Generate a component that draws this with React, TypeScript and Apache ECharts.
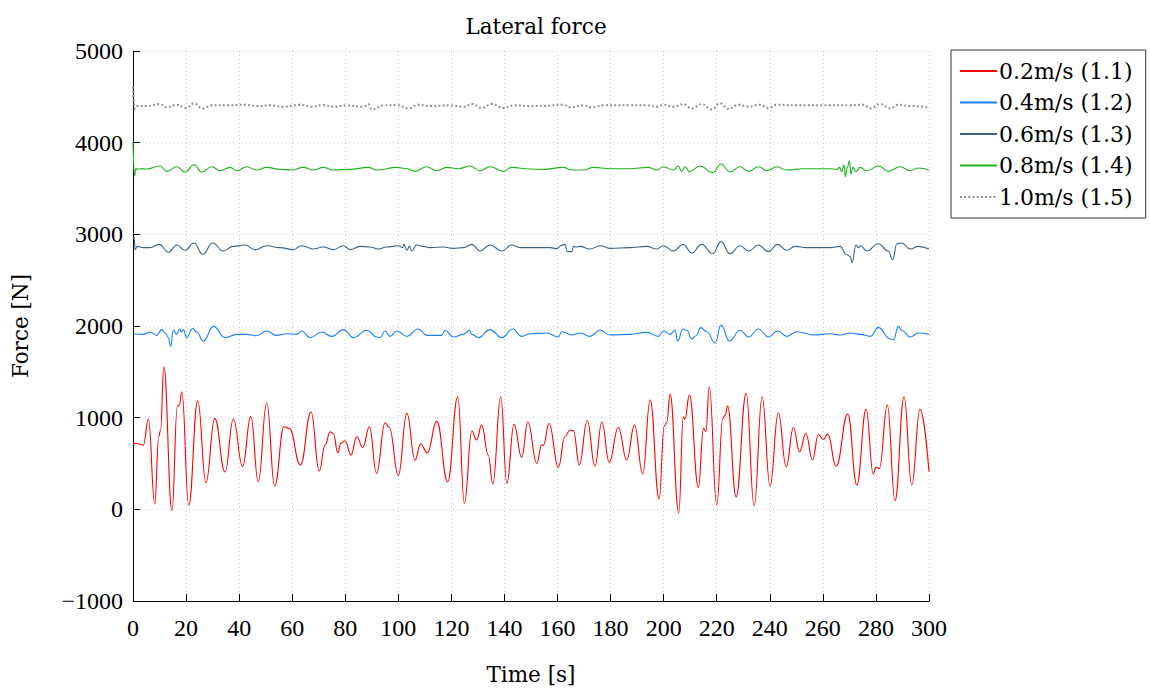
import React, { useEffect, useRef } from "react";
import * as echarts from "echarts";

const NUM_FONT = "'Liberation Serif', serif";
const TXT_FONT = "'DejaVu Serif', 'Liberation Serif', serif";

const seriesNames = ["0.2m/s (1.1)", "0.4m/s (1.2)", "0.6m/s (1.3)", "0.8m/s (1.4)", "1.0m/s (1.5)"];
const seriesColors = ["#ff0000", "#1a7fff", "#3a6485", "#1db31d", "#888888"];

const redT = [0, 2, 3.9, 5.8, 8.2, 9.7, 10.4, 11.6, 14.7, 16.7, 17.5, 18.4, 21.0, 24.4, 27.5, 30.8, 34.7, 37.8, 41.3, 44.4, 47.2, 50.4, 53.4, 56.9, 58.9, 63.1, 67.1, 70.2, 72.4, 74.3, 75.5, 77.2, 78.3, 79.9, 82.2, 84.3, 86.6, 89.1, 91.8, 95.0, 96.6, 100.0, 103.2, 106.3, 108.4, 110.9, 114.5, 118.6, 122.4, 124.9, 127.7, 129.5, 131.4, 133.9, 135.6, 138.6, 140.9, 143.6, 146.5, 148.8, 152.2, 154.0, 154.7, 156.8, 160.3, 162.8, 164.7, 166.0, 168.2, 171.2, 174.1, 176.7, 179.5, 182.9, 186.1, 189.0, 192.1, 194.9, 198.3, 200.2, 201.2, 202.4, 205.7, 207.4, 208.0, 209.7, 213.1, 215.0, 215.9, 217.2, 220.0, 222.3, 223.2, 224.1, 227.3, 231.1, 234.1, 237.1, 240.1, 243.2, 246.2, 248.9, 251.2, 253.6, 256.1, 258.3, 260.2, 261.8, 265.0, 269.4, 272.8, 276.3, 279.0, 280.0, 281.3, 284.3, 287.2, 290.6, 293.5, 296.6, 300];
const redV = [720, 715, 701, 985, 58, 792, 865, 1555, -15, 1119, 1140, 1283, 44, 1185, 290, 992, 407, 985, 469, 1014, 301, 1163, 254, 901, 883, 483, 1064, 418, 701, 846, 828, 617, 720, 749, 592, 792, 676, 901, 392, 944, 893, 371, 1047, 538, 712, 617, 960, 301, 1228, 65, 854, 756, 919, 592, 276, 1228, 283, 927, 567, 952, 501, 701, 701, 937, 458, 792, 865, 858, 483, 966, 472, 952, 512, 893, 538, 919, 385, 1192, 112, 908, 952, 1257, -37, 1010, 981, 1246, 240, 883, 846, 1337, 47, 992, 1028, 1126, 137, 1265, 36, 1228, 254, 1054, 465, 893, 628, 828, 538, 817, 763, 821, 472, 1039, 265, 1090, 385, 458, 447, 1137, 94, 1228, 265, 1090, 410];

const blueT = [0, 3.9, 6.4, 8.9, 10.8, 12.4, 13.3, 14.2, 15.2, 16.5, 17.5, 18.3, 19.0, 20.2, 22.5, 24.0, 26.5, 30.3, 34.7, 39.1, 42.8, 46.6, 50.4, 54.1, 57.9, 61.7, 63.6, 66.7, 71.1, 74.9, 79.3, 83.1, 88.1, 91.9, 93.1, 95.0, 96.9, 99.4, 103.2, 107.5, 110.7, 116.3, 117.6, 120.7, 124.5, 126.8, 127.7, 130.2, 134.6, 139.0, 143.1, 146.5, 149.6, 155.9, 160.3, 161.6, 165.4, 168.5, 172.2, 176.0, 179.8, 187.3, 193.6, 198.0, 199.9, 202.4, 204.3, 205.3, 207.2, 208.7, 210.6, 212.2, 214.0, 216.2, 219.4, 221.6, 224.8, 228.8, 232.0, 235.7, 239.5, 242.9, 246.4, 250.2, 256.5, 262.8, 266.5, 270.3, 274.1, 277.9, 280.9, 285.4, 286.6, 288.5, 289.7, 292.9, 296.0, 300];
const blueV = [1916, 1909, 1934, 1898, 1960, 1916, 1873, 1778, 1953, 1909, 1967, 1934, 1960, 1873, 1971, 1934, 1836, 1996, 1873, 1909, 1909, 1894, 1945, 1898, 1916, 1909, 1945, 1873, 1934, 1887, 1960, 1873, 1953, 1880, 1873, 1945, 1887, 1945, 1887, 1967, 1898, 1898, 1953, 1880, 1909, 1953, 1909, 1873, 1960, 1873, 1967, 1887, 1916, 1924, 1880, 1938, 1902, 1924, 1887, 1953, 1902, 1909, 1931, 1887, 1945, 1909, 1953, 1836, 1967, 1953, 1858, 1894, 1982, 1938, 1814, 2011, 1836, 1953, 1880, 1967, 1880, 1945, 1887, 1938, 1902, 1916, 1902, 1924, 1909, 1887, 1982, 1858, 1851, 1996, 1953, 1880, 1924, 1909];

const darkT = [0, 0.4, 0.8, 1.6, 3.9, 6.4, 9.9, 13.3, 16.5, 19.6, 23.0, 26.3, 30.0, 34.0, 37.8, 42.2, 46.0, 50.4, 55.4, 60.4, 63.6, 67.9, 71.7, 75.5, 79.3, 81.8, 85.6, 89.3, 92.5, 95.6, 100.0, 101.6, 102.1, 103.2, 104.2, 105.0, 106.9, 109.4, 112.0, 117.0, 120.7, 124.5, 127.7, 130.8, 134.6, 139.0, 142.7, 145.9, 149.6, 157.2, 159.7, 161.6, 162.8, 163.7, 165.4, 166.0, 167.2, 168.5, 172.2, 176.0, 179.8, 187.3, 193.6, 197.4, 199.9, 203.7, 207.4, 210.6, 214.3, 218.5, 221.6, 225.0, 228.8, 232.0, 235.7, 239.5, 242.9, 246.4, 249.5, 253.9, 262.8, 266.5, 268.8, 270.3, 271.0, 272.5, 273.4, 274.3, 276.5, 280.9, 284.7, 286.3, 287.9, 289.7, 292.9, 296.0, 300];
const darkV = [2950, 2971, 2833, 2869, 2855, 2855, 2891, 2804, 2884, 2826, 2905, 2782, 2905, 2818, 2869, 2884, 2833, 2876, 2855, 2833, 2876, 2840, 2862, 2833, 2876, 2833, 2869, 2862, 2840, 2862, 2876, 2855, 2891, 2826, 2869, 2818, 2884, 2869, 2855, 2862, 2847, 2855, 2891, 2818, 2884, 2818, 2884, 2855, 2855, 2855, 2844, 2880, 2891, 2811, 2811, 2869, 2862, 2869, 2840, 2876, 2847, 2855, 2869, 2840, 2876, 2818, 2891, 2796, 2891, 2789, 2920, 2789, 2876, 2818, 2884, 2811, 2891, 2826, 2869, 2855, 2855, 2869, 2782, 2760, 2694, 2884, 2855, 2876, 2818, 2898, 2818, 2724, 2898, 2905, 2840, 2869, 2840];

const greenT = [0, 0.6, 1.1, 1.6, 2.6, 5.2, 10.2, 12.7, 16.5, 19.6, 23.0, 25.9, 29.7, 32.8, 36.6, 39.1, 42.8, 46.6, 50.4, 55.4, 59.8, 64.2, 68.0, 71.7, 75.5, 81.8, 88.7, 91.9, 99.4, 103.2, 106.3, 110.7, 114.5, 118.2, 122.6, 127.0, 130.8, 134.6, 139.6, 142.7, 149.6, 154.7, 162.2, 165.4, 169.7, 173.5, 179.8, 187.3, 194.2, 197.4, 199.9, 203.7, 205.5, 206.8, 208.1, 209.7, 213.7, 218.5, 221.6, 225.0, 228.8, 232.0, 235.7, 238.9, 242.6, 246.4, 252.7, 262.8, 265.3, 266.2, 267.1, 268.0, 268.5, 269.2, 270.0, 270.6, 271.3, 272.5, 274.0, 276.5, 281.0, 284.7, 289.1, 292.9, 296.0, 300];
const greenV = [4010, 3636, 3720, 3709, 3716, 3712, 3745, 3687, 3737, 3680, 3759, 3680, 3737, 3694, 3730, 3694, 3737, 3702, 3730, 3709, 3702, 3730, 3702, 3730, 3702, 3709, 3730, 3702, 3730, 3716, 3687, 3737, 3694, 3730, 3716, 3745, 3694, 3737, 3687, 3730, 3712, 3709, 3730, 3702, 3702, 3730, 3716, 3716, 3730, 3702, 3737, 3702, 3745, 3687, 3737, 3684, 3745, 3673, 3767, 3680, 3737, 3687, 3737, 3694, 3737, 3702, 3716, 3716, 3709, 3730, 3684, 3756, 3629, 3730, 3803, 3658, 3730, 3684, 3730, 3694, 3745, 3687, 3737, 3694, 3723, 3702];

const grayT = [0, 0.7, 1.4, 5.2, 10.2, 12.7, 16.5, 20.0, 23.0, 26.3, 29.7, 35.3, 42.2, 46.6, 51.6, 56.7, 63.0, 67.3, 71.7, 75.5, 80.5, 86.8, 88.7, 90.0, 94.4, 99.4, 103.8, 107.5, 112.0, 119.5, 124.5, 127.7, 131.4, 135.2, 139.6, 143.4, 149.6, 154.7, 162.2, 164.7, 169.7, 172.9, 177.3, 187.3, 193.6, 197.4, 199.9, 203.7, 207.4, 210.6, 214.3, 218.1, 221.3, 224.4, 228.2, 232.0, 236.3, 239.5, 242.6, 250.2, 262.8, 270.3, 275.3, 277.9, 281.6, 285.4, 288.5, 292.9, 300];
const grayV = [4610, 4370, 4400, 4400, 4421, 4385, 4414, 4378, 4429, 4374, 4407, 4407, 4414, 4400, 4407, 4392, 4414, 4392, 4410, 4392, 4407, 4392, 4421, 4363, 4407, 4410, 4374, 4414, 4400, 4407, 4392, 4421, 4378, 4421, 4378, 4407, 4400, 4400, 4414, 4385, 4407, 4385, 4407, 4407, 4407, 4392, 4414, 4392, 4421, 4374, 4421, 4363, 4429, 4367, 4414, 4392, 4414, 4378, 4414, 4407, 4407, 4407, 4414, 4374, 4421, 4374, 4414, 4400, 4385];

const xTicks = [0, 20, 40, 60, 80, 100, 120, 140, 160, 180, 200, 220, 240, 260, 280, 300];
const yTicks = [-1000, 0, 1000, 2000, 3000, 4000, 5000];

function pairs(t: number[], v: number[]) {
  return t.map((x, i) => [x, v[i]]);
}

export default function App() {
  const ref = useRef<HTMLDivElement>(null);
  useEffect(() => {
    if (!ref.current) return;
    const chart = echarts.init(ref.current, undefined, { renderer: "svg" });
    const allData = [
      pairs(redT, redV),
      pairs(blueT, blueV),
      pairs(darkT, darkV),
      pairs(greenT, greenV),
      pairs(grayT, grayV),
    ];
    const series = allData.map((d, i) => ({
      name: seriesNames[i],
      type: "line",
      data: d,
      symbol: "none",
      smooth: 0.45,
      smoothMonotone: "x",
      lineStyle: {
        color: seriesColors[i],
        width: i === 4 ? 2 : 1.1,
        type: i === 4 ? [1.8, 2.4] : "solid",
      },
      itemStyle: { color: seriesColors[i] },
      z: 5 - i,
    }));
    chart.setOption({
      animation: false,
      title: {
        text: "Lateral force",
        left: 531,
        top: 10,
        textAlign: "center",
        textStyle: { fontFamily: TXT_FONT, fontWeight: "normal", fontSize: 21.5, color: "#000" },
      },
      legend: {
        orient: "vertical",
        left: 951,
        top: 50,
        padding: [10, 13, 10, 8],
        itemWidth: 37,
        itemHeight: 14,
        itemGap: 9.5,
        borderColor: "#333",
        borderWidth: 1,
        itemStyle: { opacity: 0 },
        textStyle: { fontFamily: TXT_FONT, fontSize: 22, color: "#000", padding: [0, 0, 0, -3] },
        data: seriesNames,
      },
      grid: { left: 133, top: 51, width: 796, height: 550, containLabel: false },
      xAxis: {
        type: "value",
        min: xTicks[0],
        max: xTicks[xTicks.length - 1],
        interval: 20,
        name: "Time [s]",
        nameLocation: "middle",
        nameGap: 62,
        nameTextStyle: { fontFamily: TXT_FONT, fontSize: 21.5, color: "#000", verticalAlign: "top" },
        axisLine: { show: true, onZero: false, lineStyle: { color: "#000", width: 1 } },
        axisTick: { show: true, inside: true, length: 7, lineStyle: { color: "#000" } },
        axisLabel: { fontFamily: NUM_FONT, fontSize: 24, color: "#000", margin: 15 },
        splitLine: { show: true, lineStyle: { color: "#c8c8c8", type: [1, 3], width: 1 } },
      },
      yAxis: {
        type: "value",
        min: yTicks[0],
        max: yTicks[yTicks.length - 1],
        interval: 1000,
        name: "Force [N]",
        nameLocation: "middle",
        nameGap: 102,
        nameRotate: 90,
        nameTextStyle: { fontFamily: TXT_FONT, fontSize: 21.5, color: "#000" },
        axisLine: { show: true, onZero: false, lineStyle: { color: "#000", width: 1 } },
        axisTick: { show: true, inside: true, length: 7, lineStyle: { color: "#000" } },
        axisLabel: {
          fontFamily: NUM_FONT,
          fontSize: 24,
          color: "#000",
          margin: 10,
          formatter: (v: number) => (v < 0 ? "\u2212" + Math.abs(v) : String(v)),
        },
        splitLine: { show: true, lineStyle: { color: "#c8c8c8", type: [1, 3], width: 1 } },
      },
      series,
    });
    return () => chart.dispose();
  }, []);
  return (
    <div
      ref={ref}
      style={{ position: "fixed", left: 0, top: 0, width: 1150, height: 690, background: "#fff" }}
    />
  );
}
